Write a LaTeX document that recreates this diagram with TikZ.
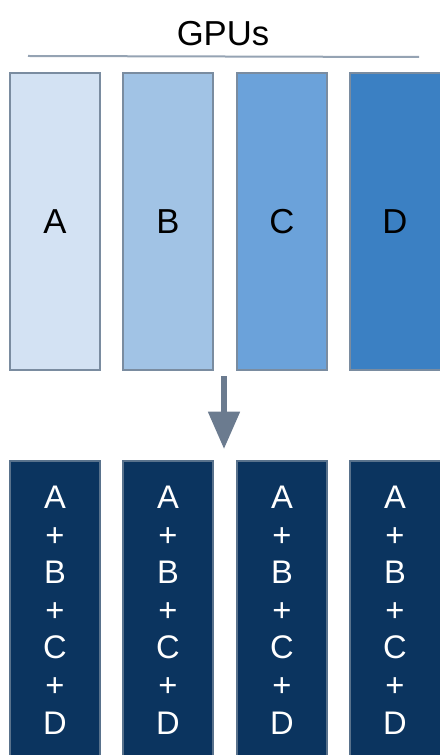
\documentclass[tikz,border=0pt]{standalone}
\usepackage{fontspec}
\setmainfont{Liberation Sans}
\usetikzlibrary{arrows.meta}

\definecolor{gpuA}{HTML}{D3E2F3}
\definecolor{gpuB}{HTML}{A1C3E5}
\definecolor{gpuC}{HTML}{6BA2DA}
\definecolor{gpuD}{HTML}{3B80C3}
\definecolor{sumfill}{HTML}{0B345F}
\definecolor{edgegray}{HTML}{7A8CA0}
\definecolor{arrowgray}{HTML}{6B7B8F}

\tikzset{
  gpubox/.style={draw=edgegray, line width=1pt, minimum width=67.5pt, minimum height=222.75pt, inner sep=0pt, font=\fontsize{26}{30}\selectfont},
  sumbox/.style={draw=edgegray!70!sumfill, fill=sumfill, line width=1pt, minimum width=67.5pt, minimum height=223.5pt, inner sep=0pt},
  sumtext/.style={text=white, align=center, inner sep=0pt, font=\fontsize{24.5}{28.2}\selectfont}
}

\begin{document}
\begin{tikzpicture}[x=0.75pt,y=0.75pt,yscale=-1,xscale=1]
        \useasboundingbox (0,0) rectangle (439,755);

        % Text Node
        \node [anchor=base, inner sep=0pt, font=\fontsize{26}{30}\selectfont] (title) at (223,46) {GPUs};
        %Straight Lines
        \coordinate (lineL) at (28,56);
        \coordinate (lineR) at (419,57);
        \draw [draw=edgegray!80!white, line width=1.5pt] (lineL) -- (lineR);

        %Shape: Rectangle
        \node [gpubox, fill=gpuA] (boxA) at (55,221.5) {A};
        %Shape: Rectangle
        \node [gpubox, fill=gpuB] (boxB) at (168,221.5) {B};
        %Shape: Rectangle
        \node [gpubox, fill=gpuC] (boxC) at (282,221.5) {C};
        %Shape: Rectangle
        \node [gpubox, fill=gpuD, minimum width=72pt] (boxD) at (398,221.5) {};
        \node [inner sep=0pt, font=\fontsize{26}{30}\selectfont] (labD) at (395,221.5) {D};

        %Straight Lines
        \coordinate (arrTop) at (224,376);
        \coordinate (arrTip) at (224,449);
        \draw [arrowgray, line width=4.5pt, -{Triangle[width=23pt,length=28pt]}] (arrTop) -- (arrTip);

        %Shape: Rectangle
        \node [sumbox] (sumA) at (55,610) {};
        \node [sumtext] (txtA) at (sumA.center) {A\\+\\B\\+\\C\\+\\D};
        %Shape: Rectangle
        \node [sumbox] (sumB) at (168,610) {};
        \node [sumtext] (txtB) at (sumB.center) {A\\+\\B\\+\\C\\+\\D};
        %Shape: Rectangle
        \node [sumbox] (sumC) at (282,610) {};
        \node [sumtext] (txtC) at (sumC.center) {A\\+\\B\\+\\C\\+\\D};
        %Shape: Rectangle
        \node [sumbox, minimum width=72pt] (sumD) at (398,610) {};
        \node [sumtext] (txtD) at (395,610) {A\\+\\B\\+\\C\\+\\D};

\end{tikzpicture}
\end{document}
